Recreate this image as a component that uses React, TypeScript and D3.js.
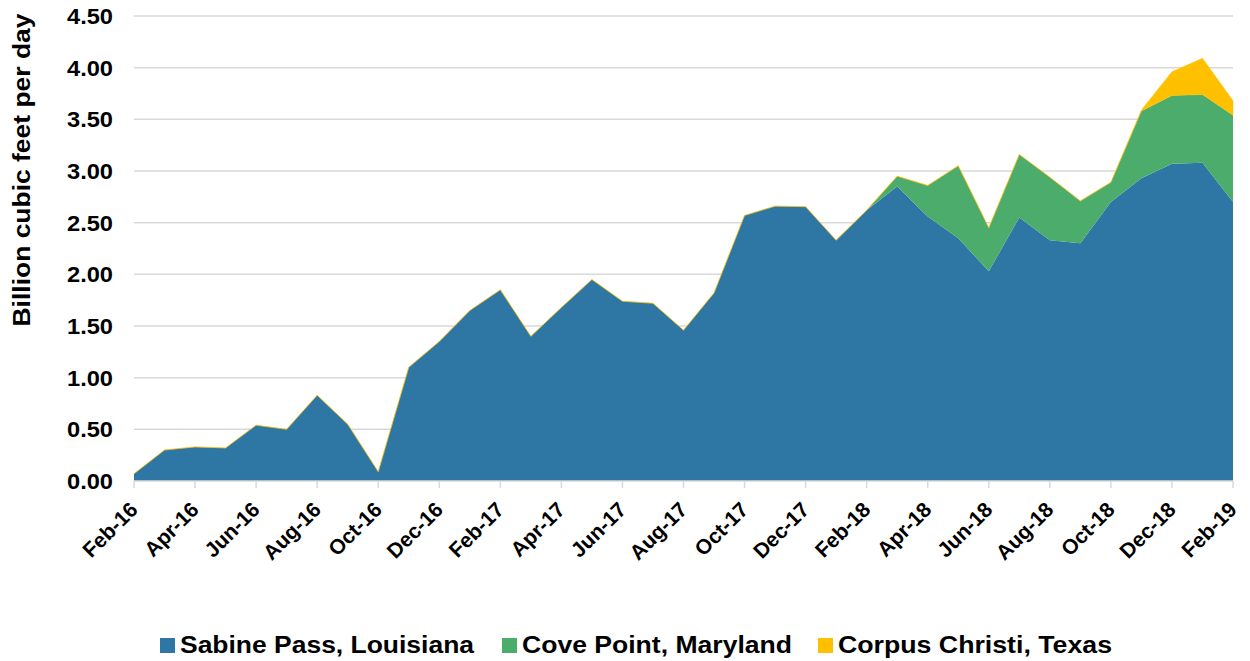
import React from 'react';
import * as d3 from 'd3';

const months = [
  'Feb-16', 'Mar-16', 'Apr-16', 'May-16', 'Jun-16', 'Jul-16', 'Aug-16', 'Sep-16', 'Oct-16', 'Nov-16', 'Dec-16',
  'Jan-17', 'Feb-17', 'Mar-17', 'Apr-17', 'May-17', 'Jun-17', 'Jul-17', 'Aug-17', 'Sep-17', 'Oct-17', 'Nov-17', 'Dec-17',
  'Jan-18', 'Feb-18', 'Mar-18', 'Apr-18', 'May-18', 'Jun-18', 'Jul-18', 'Aug-18', 'Sep-18', 'Oct-18', 'Nov-18', 'Dec-18',
  'Jan-19', 'Feb-19',
];

const sabinePass = [
  0.07, 0.30, 0.33, 0.32, 0.54, 0.50, 0.83, 0.55, 0.09, 1.10, 1.35,
  1.65, 1.85, 1.40, 1.68, 1.95, 1.74, 1.72, 1.46, 1.82, 2.57, 2.66, 2.655,
  2.33, 2.62, 2.85, 2.56, 2.35, 2.03, 2.55, 2.33, 2.30, 2.70, 2.93, 3.07,
  3.08, 2.70,
];

const covePoint = [
  0, 0, 0, 0, 0, 0, 0, 0, 0, 0, 0,
  0, 0, 0, 0, 0, 0, 0, 0, 0, 0, 0, 0,
  0, 0, 0.10, 0.30, 0.70, 0.42, 0.61, 0.61, 0.41, 0.19, 0.65, 0.66,
  0.66, 0.84,
];

const corpusChristi = [
  0, 0, 0, 0, 0, 0, 0, 0, 0, 0, 0,
  0, 0, 0, 0, 0, 0, 0, 0, 0, 0, 0, 0,
  0, 0, 0, 0, 0, 0, 0, 0, 0, 0, 0.01, 0.23,
  0.35, 0.14,
];

const seriesNames = ['Sabine Pass, Louisiana', 'Cove Point, Maryland', 'Corpus Christi, Texas'];
const seriesColors = ['#2E77A5', '#4BAC6C', '#FFC000'];
const yTicks = [0, 0.5, 1, 1.5, 2, 2.5, 3, 3.5, 4, 4.5];

const width = 1250;
const height = 661;
const margin = { top: 16, right: 17, bottom: 180, left: 134 };
const font = '"Liberation Sans", Arial, sans-serif';

export default function App() {
  const rows = months.map((m, i) => ({
    i,
    s0: sabinePass[i],
    s1: covePoint[i],
    s2: corpusChristi[i],
  }));

  const stack = d3.stack<any>().keys(['s0', 's1', 's2']);
  const stacked = stack(rows);

  const x = d3.scaleLinear()
    .domain([0, months.length - 1])
    .range([margin.left, width - margin.right]);

  const y = d3.scaleLinear()
    .domain([0, 4.5])
    .range([height - margin.bottom, margin.top]);

  const area = d3.area<any>()
    .x(d => x(d.data.i))
    .y0(d => y(d[0]))
    .y1(d => y(d[1]));

  const baseY = y(0);

  const legendItems = [
    { sq: 160, tx: 180, len: 294 },
    { sq: 502, tx: 522, len: 270 },
    { sq: 818, tx: 838, len: 274 },
  ];

  return (
    <svg width={width} height={height} style={{ position: 'absolute', left: 0, top: 0 }}>
      <rect width={width} height={height} fill="#fff" />
      {yTicks.map(t => (
        <g key={t}>
          {t > 0 && (
            <line x1={x(0)} x2={x(months.length - 1)} y1={y(t)} y2={y(t)} stroke="#d9d9d9" strokeWidth={1.5} />
          )}
          <text
            x={113}
            y={y(t)}
            dy="0.36em"
            textAnchor="end"
            fontFamily={font}
            fontWeight="bold"
            fontSize={22}
            textLength={46}
            lengthAdjust="spacingAndGlyphs"
            fill="#000"
          >
            {t.toFixed(2)}
          </text>
        </g>
      ))}
      {stacked.map((s, k) => (
        <path
          key={k}
          d={area(s) || ''}
          fill={seriesColors[k]}
          stroke={k === 2 ? '#FFC000' : 'none'}
          strokeWidth={k === 2 ? 0.6 : 0}
          strokeOpacity={0.8}
        />
      ))}
      <line x1={x(0)} x2={x(months.length - 1)} y1={baseY} y2={baseY} stroke="#d9d9d9" strokeWidth={1.5} />
      {months.map((m, i) => (i % 2 === 0 ? (
        <g key={m}>
          <line x1={x(i)} x2={x(i)} y1={baseY} y2={baseY + 7} stroke="#d9d9d9" strokeWidth={1.5} />
          <text
            transform={`translate(${x(i) + 5},${baseY + 30}) rotate(-45)`}
            textAnchor="end"
            fontFamily={font}
            fontWeight="bold"
            fontSize={21}
            fill="#000"
          >
            {m}
          </text>
        </g>
      ) : null))}
      <text
        transform={`translate(30,170) rotate(-90)`}
        textAnchor="middle"
        fontFamily={font}
        fontWeight="bold"
        fontSize={24}
        textLength={313}
        lengthAdjust="spacingAndGlyphs"
        fill="#000"
      >
        Billion cubic feet per day
      </text>
      {seriesNames.map((n, k) => (
        <g key={n}>
          <rect x={legendItems[k].sq} y={638} width={15} height={15} fill={seriesColors[k]} />
          <text
            x={legendItems[k].tx}
            y={653}
            fontFamily={font}
            fontWeight="bold"
            fontSize={23}
            textLength={legendItems[k].len}
            lengthAdjust="spacingAndGlyphs"
            fill="#000"
          >
            {n}
          </text>
        </g>
      ))}
    </svg>
  );
}
